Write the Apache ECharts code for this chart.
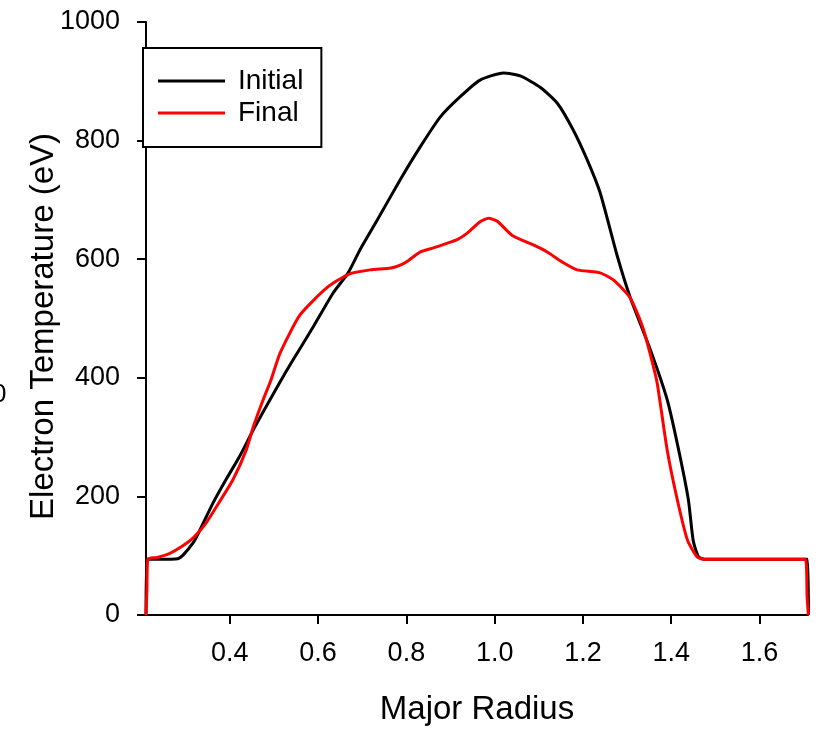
<!DOCTYPE html>
<html>
<head>
<meta charset="utf-8">
<script src="https://cdn.jsdelivr.net/npm/echarts@6/dist/echarts.min.js"></script>
<style>
html,body{margin:0;padding:0;background:#fff;}
#chart{width:821px;height:735px;}
</style>
</head>
<body>
<div id="chart"></div>
<script>
// ---- data ----
const initialR = [0.210,0.212,0.240,0.282,0.294,0.317,0.330,0.362,0.391,0.421,0.453,0.482,0.516,0.543,0.589,0.634,0.668,0.695,0.734,0.786,0.831,0.877,0.922,0.967,1.020,1.058,1.103,1.142,1.178,1.210,1.239,1.278,1.307,1.353,1.391,1.417,1.439,1.450,1.462,1.475,1.600,1.709,1.711];
const initialTe = [0,94,94,95,101,122,140,189,228,266,312,351,396,430,486,543,577,616,666,734,789,840,874,902,914,909,890,863,818,767,712,605,536,447,363,278,194,125,98,94,94,94,0];

const finalR = [0.210,0.212,0.214,0.235,0.264,0.290,0.317,0.346,0.375,0.407,0.437,0.453,0.475,0.493,0.514,0.559,0.620,0.670,0.718,0.765,0.786,0.805,0.831,0.861,0.893,0.915,0.938,0.967,0.986,1.006,1.040,1.088,1.119,1.156,1.187,1.239,1.269,1.307,1.337,1.360,1.369,1.391,1.414,1.437,1.459,1.475,1.600,1.704,1.708,1.711];
const finalTe = [0,40,94,97,104,115,130,155,189,228,278,317,362,396,442,506,552,575,582,585,590,598,612,619,627,633,644,663,669,664,640,624,612,594,582,577,565,535,482,418,388,278,194,126,98,94,94,94,30,0];

const xTicks = [0.4,0.6,0.8,1.0,1.2,1.4,1.6];
const seriesNames = ['Initial','Final'];
const xName = 'Major Radius';
const yName = 'Electron Temperature (eV)';

const zip = (a,b) => a.map((v,i)=>[v,b[i]]);
const FONT = 'Liberation Sans, Arial, sans-serif';

const chart = echarts.init(document.getElementById('chart'), null, {renderer:'canvas'});
chart.setOption({
  animation:false,
  backgroundColor:'#fff',
  textStyle:{fontFamily:FONT},
  grid:{left:146, right:13, top:22, bottom:120, containLabel:false},
  legend:{
    orient:'vertical', left:143, top:48,
    padding:[19,18,20,15],
    icon:'rect',
    itemWidth:67, itemHeight:3, itemGap:4,
    borderColor:'#000', borderWidth:2, borderRadius:0,
    backgroundColor:'#fff',
    textStyle:{fontSize:28, color:'#000', fontFamily:FONT, padding:[0,0,0,8]},
    data:seriesNames
  },
  xAxis:{
    type:'value', min:0.21, max:1.71,
    name:xName, nameLocation:'middle', nameGap:78, nameMoveOverlap:false,
    nameTextStyle:{fontSize:33, color:'#000', fontFamily:FONT},
    axisLine:{show:true, onZero:false, lineStyle:{color:'#000', width:2}},
    axisTick:{show:true, customValues:xTicks, length:9, lineStyle:{color:'#000', width:2}},
    axisLabel:{show:true, customValues:xTicks, fontSize:27, color:'#000', margin:25, fontFamily:FONT,
      formatter:v=>Number(v).toFixed(1)},
    splitLine:{show:false}
  },
  yAxis:{
    type:'value', min:0, max:1000, interval:200,
    name:yName, nameLocation:'middle', nameGap:86, nameMoveOverlap:false,
    nameTextStyle:{fontSize:33, color:'#000', fontFamily:FONT, padding:[0,16,0,0]},
    axisLine:{show:true, lineStyle:{color:'#000', width:2}},
    axisTick:{show:true, length:9, lineStyle:{color:'#000', width:2}},
    axisLabel:{fontSize:27, color:'#000', margin:26, fontFamily:FONT, formatter:v=>String(v)},
    splitLine:{show:false}
  },
  graphic:[{type:'text', x:-8, y:382, style:{text:'0', fontSize:26, fill:'#000', font:'26px Liberation Sans, Arial, sans-serif'}}],
  series:[
    {name:seriesNames[0], type:'line', data:zip(initialR, initialTe), symbol:'none', smooth:0.2,
     lineStyle:{color:'#000', width:3}, itemStyle:{color:'#000'}},
    {name:seriesNames[1], type:'line', data:zip(finalR, finalTe), symbol:'none', smooth:0.2,
     lineStyle:{color:'#ff0000', width:3}, itemStyle:{color:'#ff0000'}}
  ]
});
</script>
</body>
</html>
